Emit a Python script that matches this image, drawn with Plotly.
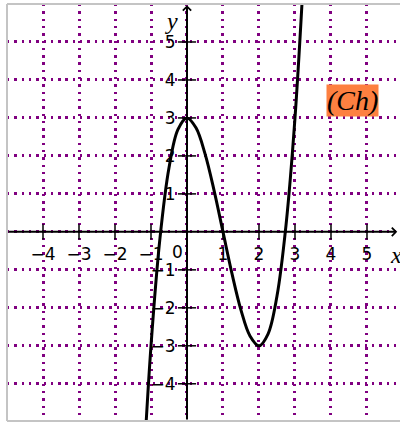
import plotly.graph_objects as go

# curve points
curve_x = [-1.2, -1.0, -0.75, -0.5, -0.25, 0.0, 0.25, 0.5, 0.75, 1.0, 1.25, 1.5, 1.75, 2.0, 2.25, 2.5, 2.75, 3.0, 3.25]
curve_y = [-6.1, -3.0, -0.16, 1.69, 2.70, 3.0, 2.74, 2.06, 1.10, 0.0, -1.10, -2.06, -2.74, -3.0, -2.69, -1.69, 0.17, 3.0, 6.97]

x_ticks = [-4, -3, -2, -1, 0, 1, 2, 3, 4, 5]
x_labels = ["−4", "−3", "−2", "−1", "", "1", "2", "3", "4", "5"]
y_ticks = [-4, -3, -2, -1, 0, 1, 2, 3, 4, 5]
y_labels = ["−4", "−3", "−2", "−1", "", "1", "2", "3", "4", "5"]

x_range = [-5, 5.917]
y_range = [-4.98, 6.0]

purple = "#800080"
tick_font = dict(family="DejaVu Sans", size=17, color="black")
dots = "2.4px,4.9px"

fig = go.Figure()

fig.add_trace(go.Scatter(x=curve_x, y=curve_y, mode="lines", line=dict(color="black", width=3, shape="spline"),
                         hoverinfo="skip", showlegend=False))

# tick marks crossing the axes
fig.add_trace(go.Scatter(x=[t for t in x_ticks if t != 0], y=[0] * (len(x_ticks) - 1), mode="markers",
                         marker=dict(symbol="line-ns", size=11, line=dict(color="black", width=1.5)),
                         hoverinfo="skip", showlegend=False, cliponaxis=False))
fig.add_trace(go.Scatter(x=[0] * (len(y_ticks) - 1), y=[t for t in y_ticks if t != 0], mode="markers",
                         marker=dict(symbol="line-ew", size=13, line=dict(color="black", width=1.5)),
                         hoverinfo="skip", showlegend=False, cliponaxis=False))

# axis lines with arrows
fig.add_annotation(x=5.84, y=0, ax=x_range[0], ay=0, axref="x", ayref="y", text="", showarrow=True,
                   arrowhead=4, arrowsize=0.8, arrowwidth=2, arrowcolor="black", standoff=0)
fig.add_annotation(x=0, y=5.97, ax=0, ay=y_range[0], axref="x", ayref="y", text="", showarrow=True,
                   arrowhead=4, arrowsize=0.8, arrowwidth=2, arrowcolor="black", standoff=0)

# axis names and origin label
fig.add_annotation(x=5.8, y=-0.6, text="<i>x</i>", showarrow=False,
                   font=dict(family="Liberation Serif", size=24, color="black"))
fig.add_annotation(x=-0.42, y=5.55, text="<i>y</i>", showarrow=False,
                   font=dict(family="Liberation Serif", size=24, color="black"))
fig.add_annotation(x=0, y=0, xshift=-9, yshift=-20, text="0", showarrow=False, font=tick_font)

fig.add_annotation(x=4.61, y=3.45, text="<i>(Ch)</i>", showarrow=False, bgcolor="#fd8040", borderpad=0,
                   font=dict(family="Liberation Serif", size=28, color="black"))

# frame on left, top and bottom
for x0, y0, x1, y1 in [(0, 0, 0, 1), (0, 1, 1, 1), (0, 0, 1, 0)]:
    fig.add_shape(type="line", xref="paper", yref="paper", x0=x0, y0=y0, x1=x1, y1=y1,
                  line=dict(color="#c4c4c4", width=2))

fig.update_xaxes(range=x_range, tickvals=x_ticks, ticktext=x_labels, showgrid=True, gridcolor=purple,
                 gridwidth=2.6, griddash=dots, zeroline=False, showline=False, anchor="free",
                 position=(0 - y_range[0]) / (y_range[1] - y_range[0]), ticks="outside", ticklen=7,
                 tickcolor="rgba(0,0,0,0)", tickfont=tick_font, automargin=False)
fig.update_yaxes(range=y_range, tickvals=y_ticks, ticktext=y_labels, showgrid=True, gridcolor=purple,
                 gridwidth=2.6, griddash=dots, zeroline=False, showline=False, anchor="free",
                 position=(0 - x_range[0]) / (x_range[1] - x_range[0]), ticks="outside", ticklen=8,
                 tickcolor="rgba(0,0,0,0)", tickfont=tick_font, automargin=False)

fig.update_layout(width=400, height=425, margin=dict(l=7, r=0, t=4, b=4, autoexpand=False),
                  paper_bgcolor="white", plot_bgcolor="white", showlegend=False)

fig.write_html("out.html", config={"displayModeBar": False},
               post_script="document.body.style.margin = '0';")
